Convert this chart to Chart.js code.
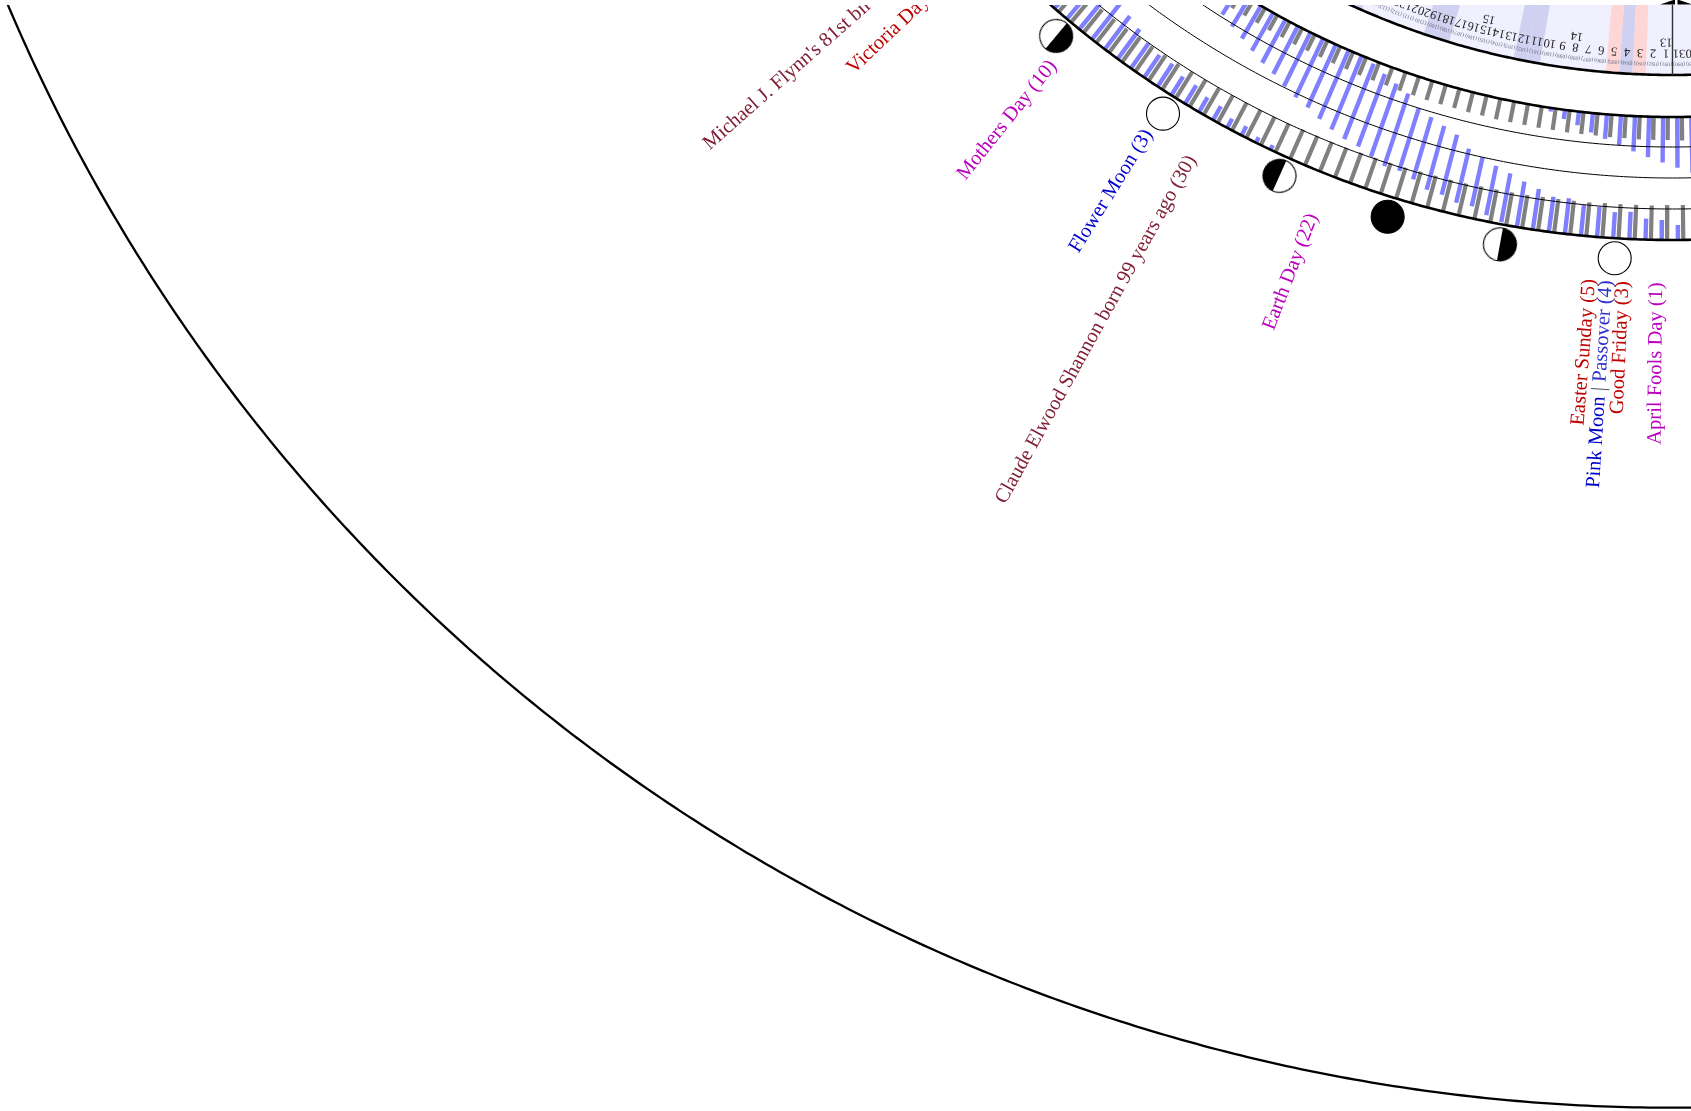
<!DOCTYPE html>
<html><head><meta charset="utf-8">
<style>html,body{margin:0;padding:0;background:#fff;overflow:hidden}#w{width:1691px;height:1111px}</style>
<script src="https://cdn.jsdelivr.net/npm/chart.js@4"></script>
</head><body><div id="w"><canvas id="c"></canvas></div>
<script>
// Calendar ring of spring 2015: day 1 = 1 April. Hours run across the ring.
const dayIndex = [-1,0,1,2,3,4,5,6,7,8,9,10,11,12,13,14,15,16,17,18,19,20,21,22,23,24,25,26,27,28,29,30,31,32,33,34,35,36,37,38,39,40,41,42,43,44,45,46];
const sunrise  = [4.6,4.6,4.5,4.5,4.5,4.4,4.4,4.3,4.3,4.3,4.2,4.2,4.1,4.1,4.1,4.0,4.0,3.9,3.9,3.9,3.8,3.8,3.7,3.7,3.7,3.6,3.6,3.5,3.5,3.5,3.4,3.4,3.3,3.3,3.3,3.2,3.2,3.2,3.1,3.1,3.1,3.0,3.0,3.0,2.9,2.9,2.9,2.8];
const sunset   = [17.2,17.2,17.2,17.3,17.3,17.3,17.3,17.4,17.4,17.4,17.4,17.5,17.5,17.5,17.5,17.6,17.6,17.6,17.6,17.7,17.7,17.7,17.7,17.8,17.8,17.8,17.8,17.9,17.9,17.9,17.9,18.0,18.0,18.0,18.0,18.1,18.1,18.1,18.1,18.2,18.2,18.2,18.2,18.3,18.3,18.3,18.3,18.4];
const moonRise = [21.3,21.1,20.1,19.9,18.7,18.9,18.1,18.0,17.0,17.1,16.0,15.0,13.9,13.0,11.9,10.9,8.8,7.8,6.8,5.9,3.8,2.7,1.7,0.6,null,null,null,23.0,22.8,22.0,22.0,20.9,20.7,19.8,19.7,18.7,18.7,18.0,16.8,15.9,15.0,14.0,13.1,11.9,10.9,10.0,9.0,8.0];
const moonSet  = [10.9,9.9,8.9,7.9,6.9,5.8,4.8,3.8,2.7,1.8,0.7,null,23.6,22.8,21.7,21.7,20.9,20.7,19.5,18.7,18.7,17.8,16.8,16.4,15.6,14.6,13.5,12.7,11.7,10.5,9.6,8.5,7.4,6.4,5.4,4.3,3.3,2.3,1.6,0.6,null,null,null,null,null,null,null,null];
const dateLabels = ["30","31","1","2","3","4","5","6","7","8","9","10","11","12","13","14","15","16","17","18","19","20","21","22","23","24","25","26","27","28","29","30"];
const dateDays   = [-1,0,1,2,3,4,5,6,7,8,9,10,11,12,13,14,15,16,17,18,19,20,21,22,23,24,25,26,27,28,29,30];
const weekLabels = ["13","14","15","16"];
const weekDays   = [1,8,15,22];
const weekendDays = [4,11,12,18,19,25,26];
const holidayDays = [3,5];
const fullMoons = [4,33];
const newMoons = [18];
const lastQuarters = [11,41];
const firstQuarters = [25];
const events = [
 {day:1, parts:[["April Fools Day (1)","#bb00bb"]]},
 {day:3, parts:[["Good Friday (3)","#c00000"]]},
 {day:4, parts:[["Pink Moon","#0000cc"],[" | ","#555555"],["Passover (4)","#3030cc"]]},
 {day:5, parts:[["Easter Sunday (5)","#c00000"]]},
 {day:22,parts:[["Earth Day (22)","#bb00bb"]]},
 {day:30,parts:[["Claude Elwood Shannon born 99 years ago (30)","#802038"]]},
 {day:33,parts:[["Flower Moon (3)","#0000cc"]]},
 {day:40,parts:[["Mothers Day (10)","#bb00bb"]]},
 {day:48,parts:[["Victoria Day (18)","#c00000"]]},
 {day:50,parts:[["Michael J. Flynn's 81st birthday (20)","#802038"]]}
];
const cx=1672.5, cy=-700, R0=817, R24=940, rBand=775, rOuter=1807.7, thinRings=[847,878,909], rMoon=960, rEvent=982.5;
const phi=d=>d*2*Math.PI/365;
const P=(d,r)=>({x:cx-r*Math.sin(phi(d)),y:cy+r*Math.cos(phi(d))});
const H=h=>R0+h*(R24-R0)/24;
const arc=r=>{const a=[];for(let d=-10;d<=90;d+=0.25)a.push(P(d,r));return a;};
const gap={x:null,y:null};
const grayPts=[],bluePts=[];
dayIndex.forEach((n,i)=>{
  const g=n-1+1/3,b=n-1+2/3;
  grayPts.push(P(g,H(0)),P(g,H(sunrise[i])),gap,P(g,H(sunset[i])),P(g,H(24)),gap);
  const ri=moonRise[i],se=moonSet[i];
  const seg=(a,c)=>bluePts.push(P(b,H(a)),P(b,H(c)),gap);
  if(ri===null)seg(0,se);
  else if(se===null)seg(ri,24);
  else if(se<ri){seg(0,se);seg(ri,24);}
  else seg(ri,se);
});
const sector=(d0,d1,r0,r1)=>{const a=[];for(let d=d0;d<=d1+1e-9;d+=0.25)a.push(P(d,r1));for(let d=d1;d>=d0-1e-9;d-=0.25)a.push(P(d,r0));a.push(a[0]);return a;};
const ds=[];
const poly=(data,color)=>ds.push({type:'scatter',data,showLine:true,fill:'shape',backgroundColor:color,borderColor:color,borderWidth:0,pointRadius:0});
const line=(data,color,w)=>ds.push({type:'scatter',data,showLine:true,fill:false,borderColor:color,borderWidth:w,pointRadius:0,borderCapStyle:'butt',spanGaps:false});
poly(sector(-10,60,600,rBand),'#f0f0ff');
weekendDays.forEach(n=>poly(sector(n-1,n,600,rBand),'#d0d0f0'));
holidayDays.forEach(n=>poly(sector(n-1,n,600,rBand),'#ffd6d6'));
line(grayPts,'#808080',4.2);
line(bluePts,'#8080ff',4.4);
thinRings.forEach(r=>line(arc(r),'#000',1));
line(arc(rBand),'#000',2.6);line(arc(R0),'#000',2.6);line(arc(R24),'#000',2.6);line(arc(rOuter),'#000',2.3);
line([P(0,600),P(0,rBand)],'#333',1.4);
// moons
const halfMoon=()=>{const c=document.createElement('canvas');c.width=c.height=36;const t=c.getContext('2d');
 t.beginPath();t.arc(18,18,16.5,0,7);t.fillStyle='#fff';t.fill();
 t.beginPath();t.arc(18,18,16.5,-Math.PI/2,Math.PI/2);t.closePath();t.fillStyle='#000';t.fill();
 t.beginPath();t.arc(18,18,16.5,0,7);t.lineWidth=1.1;t.strokeStyle='#000';t.stroke();return c;};
const hm=halfMoon();
const moonSet_=(days,fill)=>ds.push({type:'scatter',data:days.map(n=>P(n-0.5,rMoon)),pointStyle:'circle',pointRadius:16.5,pointBackgroundColor:fill,pointBorderColor:'#000',pointBorderWidth:1.1,showLine:false});
moonSet_(fullMoons,'#fff');moonSet_(newMoons,'#000');
const quarter=(days,extra)=>ds.push({type:'scatter',data:days.map(n=>P(n-0.5,rMoon)),pointStyle:hm,pointRadius:17,pointRotation:days.map(n=>(n-0.5)*360/365+extra),showLine:false});
quarter(lastQuarters,0);quarter(firstQuarters,180);
// top margin of the sheet
poly([{x:-5,y:-5},{x:1700,y:-5},{x:1700,y:5},{x:-5,y:5},{x:-5,y:-5}],'#fff');
poly([{x:1660,y:4.4},{x:1675,y:-0.5},{x:1675,y:4.4},{x:1660,y:4.4}],'#000');
poly([{x:1677.5,y:-0.5},{x:1691,y:4},{x:1691,y:4.4},{x:1677.5,y:4.4},{x:1677.5,y:-0.5}],'#000');
ds.forEach((d,i)=>{d.order=-i;d.parsing=false;d.normalized=true;});

const textPlugin={id:'ringText',afterDatasetsDraw(chart){
  const ctx=chart.ctx,xs=chart.scales.x,ys=chart.scales.y;
  ctx.save();ctx.beginPath();ctx.rect(0,5,1691,1106);ctx.clip();
  const put=(d,r,str,font,color,rot,align)=>{const p=P(d,r);ctx.save();ctx.translate(xs.getPixelForValue(p.x),ys.getPixelForValue(p.y));ctx.rotate(rot);ctx.font=font;ctx.fillStyle=color;ctx.textAlign=align;ctx.textBaseline='middle';ctx.fillText(str,0,0);ctx.restore();};
  dateLabels.forEach((s,i)=>{const d=dateDays[i]-0.5;put(d,753,s,"12.5px 'Liberation Serif'",'#222',phi(d)+Math.PI,'center');
    const doy=dateDays[i]+90;put(d,764,'('+String(doy).padStart(3,'0')+')',"5.5px 'Liberation Serif'",'#667',phi(d)+Math.PI,'center');});
  weekLabels.forEach((s,i)=>{const d=weekDays[i]-0.5;put(d,742,s,"12.5px 'Liberation Serif'",'#222',phi(d)+Math.PI,'center');});
  events.forEach(ev=>{const d=ev.day-0.38-0.008*ev.day,p=P(d,rEvent);
    ctx.save();ctx.translate(xs.getPixelForValue(p.x),ys.getPixelForValue(p.y));ctx.rotate(phi(d)-Math.PI/2);
    ctx.font="20.5px 'Liberation Serif'";ctx.textBaseline='alphabetic';ctx.textAlign='left';
    let w=0;ev.parts.forEach(q=>w+=ctx.measureText(q[0]).width);
    let x=-w;ev.parts.forEach(q=>{ctx.fillStyle=q[1];ctx.fillText(q[0],x,0);x+=ctx.measureText(q[0]).width;});
    ctx.restore();});
  ctx.restore();
}};
new Chart(document.getElementById('c'),{data:{datasets:ds},plugins:[textPlugin],options:{
  responsive:true,maintainAspectRatio:false,animation:false,devicePixelRatio:1,
  layout:{padding:0,autoPadding:false},
  plugins:{legend:{display:false},tooltip:{enabled:false}},
  elements:{line:{tension:0}},
  scales:{x:{type:'linear',display:false,min:0,max:1691},y:{type:'linear',display:false,min:0,max:1111,reverse:true}}
}});
</script></body></html>
